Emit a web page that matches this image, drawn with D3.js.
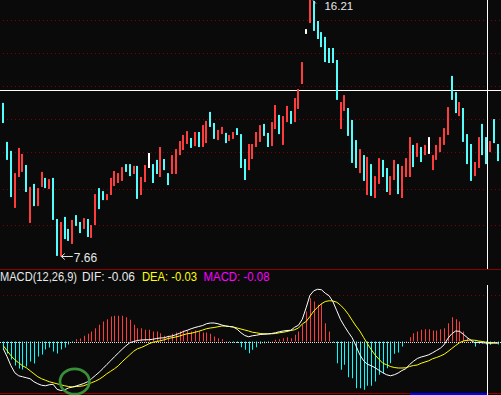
<!DOCTYPE html>
<html><head><meta charset="utf-8">
<script src="https://cdn.jsdelivr.net/npm/d3@7"></script>
<style>html,body{margin:0;padding:0;background:#0a0a0a;overflow:hidden}svg{display:block}</style>
</head><body><svg id="c" width="501" height="395"></svg>
<script>
// ---- data ----
const highs = [12.78,11.48,11.18,10.44,11.28,11.08,10.71,9.98,10.08,9.94,
 10.48,10.28,10.24,10.28,8.91,8.81,8.98,8.58,8.88,9.04,
 8.81,8.94,8.91,8.71,9.74,9.94,9.84,9.74,10.28,10.51,
 10.44,10.64,10.74,10.74,10.68,10.68,10.31,10.71,11.11,10.74,
 10.88,11.31,10.91,10.44,11.04,11.24,11.51,11.71,11.84,11.61,
 11.81,11.81,12.04,12.18,12.48,12.11,11.88,11.98,11.78,11.71,
 11.81,11.94,11.74,10.91,11.41,11.41,11.81,12.04,12.08,11.78,
 12.14,12.71,12.38,12.34,12.68,12.51,12.94,13.24,14.14,15.24,
 16.21,16.18,15.51,15.14,14.98,14.61,14.61,14.21,12.81,13.04,
 12.61,12.21,11.54,11.24,11.04,10.98,10.74,10.34,10.94,10.88,
 10.61,10.34,10.88,10.74,10.68,10.94,11.64,11.38,11.44,11.31,
 11.38,11.64,11.04,11.38,11.64,11.94,12.64,13.68,13.14,12.81,
 12.61,11.74,11.41,10.81,11.64,12.08,11.64,11.51,12.24,11.41];
const lows = [12.11,10.88,9.64,9.28,10.31,10.48,9.81,8.78,9.34,9.34,
 9.98,9.94,9.91,8.88,7.68,7.66,8.24,8.18,8.08,8.68,
 8.44,8.58,8.31,8.28,8.71,9.24,9.54,9.54,9.71,10.01,
 10.11,10.18,10.48,10.34,10.41,9.58,9.71,10.14,10.61,10.11,
 10.41,10.31,10.54,10.04,10.41,10.41,11.04,11.21,11.41,11.28,
 11.34,11.31,11.31,11.44,11.98,11.58,11.54,11.74,11.44,11.51,
 11.58,11.71,10.61,10.21,10.54,10.91,11.31,11.48,11.68,11.31,
 11.34,11.91,11.74,11.38,12.14,12.08,12.14,12.58,13.41,15.08,
 15.44,15.18,14.91,14.64,14.14,14.11,14.11,12.88,11.91,12.51,
 11.68,10.78,10.61,10.44,10.18,9.71,9.68,9.61,10.08,10.31,
 9.81,9.71,10.21,9.74,9.61,10.31,10.31,10.64,10.98,10.81,
 11.04,11.08,10.54,10.88,11.14,11.38,11.71,12.88,12.44,12.34,
 11.48,10.74,10.18,10.34,10.61,11.04,10.74,11.14,11.44,10.84];
// u = up day, d = down day, f = flat
const trend = ("ddduuududu"+"ududduddud"+"duduudduuu"+"uudduduufd"+"dudduuuuud"+
  "uduudduudu"+"uddduuuudd"+"uuduuduuuf"+"uddddddduu"+"dddududuud"+
  "duuduuudud"+"ufuuuuuddu"+"ddduuddudd").split("");
const dif = [-0.29,-0.61,-0.97,-1.25,-1.37,-1.41,-1.45,-1.49,-1.61,-1.69,
 -1.75,-1.77,-1.73,-1.71,-1.91,-1.96,-1.93,-1.86,-1.82,-1.78,
 -1.73,-1.68,-1.61,-1.49,-1.36,-1.23,-1.08,-0.92,-0.77,-0.61,
 -0.46,-0.31,-0.17,-0.05,0.00,0.04,0.06,0.07,0.07,0.09,
 0.12,0.14,0.15,0.20,0.22,0.27,0.33,0.40,0.45,0.51,
 0.56,0.60,0.64,0.71,0.74,0.74,0.71,0.66,0.62,0.60,
 0.58,0.49,0.35,0.24,0.19,0.23,0.25,0.28,0.29,0.30,
 0.32,0.35,0.39,0.42,0.44,0.45,0.57,0.65,0.89,1.35,
 1.85,2.03,2.09,2.07,1.93,1.83,1.59,1.23,0.87,0.61,
 0.37,0.15,-0.17,-0.53,-0.77,-0.91,-0.97,-1.05,-1.15,-1.25,
 -1.33,-1.37,-1.33,-1.26,-1.16,-1.09,-0.92,-0.79,-0.68,-0.62,
 -0.58,-0.53,-0.45,-0.36,-0.27,-0.13,0.13,0.31,0.42,0.41,
 0.29,0.16,0.05,-0.05,-0.03,-0.05,-0.06,-0.07,-0.06,-0.06];
const dea = [-0.17,-0.37,-0.57,-0.73,-0.85,-0.97,-1.05,-1.17,-1.29,-1.41,
 -1.49,-1.55,-1.61,-1.65,-1.69,-1.73,-1.77,-1.80,-1.82,-1.80,
 -1.79,-1.77,-1.71,-1.65,-1.59,-1.51,-1.41,-1.29,-1.19,-1.09,
 -0.97,-0.81,-0.67,-0.53,-0.39,-0.29,-0.24,-0.17,-0.09,-0.03,
 0.00,0.03,0.07,0.12,0.15,0.18,0.22,0.27,0.31,0.33,
 0.37,0.41,0.46,0.51,0.54,0.56,0.59,0.62,0.62,0.60,
 0.58,0.54,0.50,0.46,0.42,0.37,0.35,0.32,0.31,0.31,
 0.31,0.32,0.35,0.37,0.40,0.44,0.47,0.54,0.70,0.80,
 1.00,1.22,1.37,1.51,1.60,1.63,1.62,1.57,1.45,1.29,
 1.09,0.85,0.62,0.42,0.16,-0.09,-0.33,-0.54,-0.71,-0.87,
 -0.93,-1.00,-1.04,-1.06,-1.06,-1.05,-1.00,-0.96,-0.94,-0.87,
 -0.82,-0.77,-0.69,-0.64,-0.58,-0.51,-0.40,-0.28,-0.16,-0.05,
 0.02,0.05,0.06,0.05,0.02,0.00,-0.03,-0.04,-0.05,-0.06];
const macd = [-0.32,-0.48,-0.72,-0.96,-1.08,-1.12,-1.00,-0.80,-0.88,-0.60,
 -0.52,-0.32,-0.24,-0.40,-0.48,-0.32,-0.24,-0.12,-0.04,0.09,
 0.12,0.23,0.31,0.40,0.53,0.67,0.80,0.89,1.00,1.03,
 1.03,1.03,0.97,0.87,0.67,0.53,0.53,0.47,0.47,0.40,
 0.40,0.33,0.23,0.23,0.31,0.36,0.40,0.44,0.44,0.40,
 0.44,0.40,0.36,0.36,0.31,0.20,0.13,0.09,0.02,-0.02,
 -0.04,-0.06,-0.23,-0.33,-0.47,-0.33,-0.23,-0.09,-0.07,-0.02,
 0.02,0.07,0.09,0.13,0.17,0.13,0.27,0.40,0.67,1.20,
 1.73,1.60,1.47,1.53,0.73,0.40,-0.04,-0.87,-1.13,-0.93,
 -1.43,-1.47,-1.87,-1.87,-1.93,-1.77,-1.77,-1.60,-1.33,-1.27,
 -1.07,-0.87,-0.49,-0.44,-0.20,0.02,0.17,0.33,0.40,0.47,
 0.49,0.49,0.44,0.44,0.49,0.53,0.73,0.97,0.89,0.80,
 0.40,0.13,0.02,-0.20,-0.09,-0.08,-0.12,-0.13,-0.04,-0.12];
const priceGrid = [15.54,14.44,13.34,12.24,11.14,9.91,8.71];
const macdGrid = [1.88];
const highIndex = 80, highText = "16.21";
const lowIndex = 15, lowText = "7.66";
const crossIndex = 126, crossPrice = 13.21;
const titleParts = [
  {text:"MACD(12,26,9)", color:"#e8e8e8", x:0, w:77},
  {text:"DIF: -0.06", color:"#e8e8e8", x:82, w:53},
  {text:"DEA: -0.03", color:"#ffff00", x:142, w:55},
  {text:"MACD: -0.08", color:"#ff00ff", x:203.5, w:66}
];

// ---- drawing ----
const W = 501, H = 395;
const svg = d3.select("#c");
const UP = "#ff3c3c", DOWN = "#54fcfc", FLAT = "#ffffff", GRID = "#800000";
const days = d3.range(highs.length);
const x = d3.scalePoint().domain(days).range([3.3, 497.8]);
const y = d3.scaleLinear().domain([7.66, 16.21]).range([256.5, 0]);
const ym = d3.scaleLinear().domain([-2, 2]).range([391.5, 291.5]);
const px = v => Math.round(v) + 0.5;
const FONT = "Liberation Sans, Arial, sans-serif";

svg.append("rect").attr("width", W).attr("height", H).attr("fill", "#0a0a0a");

// grid
svg.append("g").selectAll("line").data(priceGrid).join("line")
  .attr("x1", 0).attr("x2", W).attr("y1", d => px(y(d))).attr("y2", d => px(y(d)))
  .attr("stroke", GRID).attr("stroke-dasharray", "1,3").attr("stroke-dashoffset", -3);
svg.append("g").selectAll("line").data(macdGrid).join("line")
  .attr("x1", 0).attr("x2", W).attr("y1", d => px(ym(d))).attr("y2", d => px(ym(d)))
  .attr("stroke", GRID).attr("stroke-dasharray", "1,3").attr("stroke-dashoffset", -3);

// panel borders
svg.append("line").attr("x1", 0).attr("x2", W).attr("y1", 269.5).attr("y2", 269.5).attr("stroke", "#8c0000");
svg.append("line").attr("x1", 0).attr("x2", W).attr("y1", 393.5).attr("y2", 393.5).attr("stroke", "#8c0000");
svg.append("rect").attr("x", 410).attr("y", 393).attr("width", 77).attr("height", 2).attr("fill", "#0000ff");

// crosshair
const cx = Math.round(x(crossIndex)) + 1.5;
const cy = px(y(crossPrice));
svg.append("line").attr("x1", 0).attr("x2", W).attr("y1", cy).attr("y2", cy).attr("stroke", "#fff");

// price bars
const colorOf = t => t === "u" ? UP : t === "d" ? DOWN : FLAT;
svg.append("g").selectAll("rect").data(days).join("rect")
  .attr("x", i => Math.round(x(i)) - 1)
  .attr("width", 2)
  .attr("y", i => y(highs[i]))
  .attr("height", i => Math.max(1, y(lows[i]) - y(highs[i])))
  .attr("fill", i => colorOf(trend[i]));

svg.append("line").attr("x1", cx).attr("x2", cx).attr("y1", 0).attr("y2", 269).attr("stroke", "#fff");
svg.append("line").attr("x1", cx).attr("x2", cx).attr("y1", 285).attr("y2", H).attr("stroke", "#fff");

// high / low labels
const lx = x(lowIndex), ly = y(lows[lowIndex]);
const arrow = d3.path();
arrow.moveTo(lx + 0.5, ly); arrow.lineTo(lx + 12, ly);
arrow.moveTo(lx + 0.5, ly); arrow.lineTo(lx + 4, ly - 3);
arrow.moveTo(lx + 0.5, ly); arrow.lineTo(lx + 4, ly + 3);
svg.append("path").attr("d", arrow.toString()).attr("stroke", "#e0e0e0").attr("fill", "none");
svg.append("text").attr("x", lx + 13).attr("y", ly + 5).text(lowText)
  .attr("fill", "#e8e8e8").attr("font-family", FONT).attr("font-size", 12);
const hx = x(highIndex), hy = y(highs[highIndex]);
const arrow2 = d3.path();
arrow2.moveTo(hx + 3, hy + 0.5); arrow2.lineTo(hx + 6, hy + 3.5);
svg.append("path").attr("d", arrow2.toString()).attr("stroke", "#e0e0e0").attr("fill", "none");
svg.append("text").attr("x", hx + 14.5).attr("y", hy + 9.5).text(highText)
  .attr("fill", "#e8e8e8").attr("font-family", FONT).attr("font-size", 11.5);

// MACD histogram
const y0 = 341.5;
svg.append("g").selectAll("rect").data(days).join("rect")
  .attr("x", i => Math.round(x(i)))
  .attr("width", 1)
  .attr("y", i => Math.min(ym(macd[i]), y0))
  .attr("height", i => Math.abs(ym(macd[i]) - y0))
  .attr("fill", i => macd[i] >= 0 ? UP : "#00ffff");

// zero line
svg.append("line").attr("x1", 0).attr("x2", W).attr("y1", px(ym(0))).attr("y2", px(ym(0)))
  .attr("stroke", "#e0e0e0").attr("stroke-dasharray", "1,1");

// DEA / DIF
const line = arr => d3.line().x(i => x(i)).y(i => ym(arr[i]))(days);
svg.append("path").attr("d", line(dea)).attr("stroke", "#ffff00").attr("fill", "none").attr("stroke-width", 1);
svg.append("path").attr("d", line(dif)).attr("stroke", "#ffffff").attr("fill", "none").attr("stroke-width", 1);

// title
svg.append("g").selectAll("text").data(titleParts).join("text")
  .attr("x", d => d.x).attr("y", 281).text(d => d.text).attr("fill", d => d.color)
  .attr("textLength", d => d.w).attr("lengthAdjust", "spacingAndGlyphs")
  .attr("font-family", FONT).attr("font-size", 12);

// annotation circle
svg.append("ellipse").attr("cx", x(18) + 2.4).attr("cy", 381.5).attr("rx", 14.7).attr("ry", 12.7)
  .attr("fill", "none").attr("stroke", "#3a8f3a").attr("stroke-width", 2.7);
</script></body></html>
